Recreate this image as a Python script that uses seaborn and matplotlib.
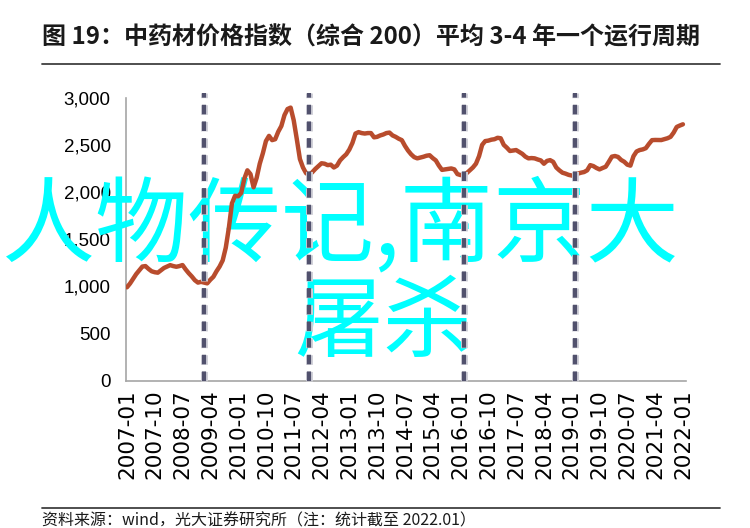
import numpy as np
import pandas as pd
import matplotlib
matplotlib.use("Agg")
import matplotlib.pyplot as plt
import seaborn as sns
from matplotlib.lines import Line2D
import matplotlib.patheffects as pe

sns.set_style("white")
plt.rcParams['font.family'] = ['Noto Sans CJK SC', 'DejaVu Sans']

# ---------------- data ----------------
start_month = "2007-01"
index_values = [
    990, 1030, 1080, 1130, 1170, 1210, 1215, 1185, 1160, 1150,
    1145, 1170, 1195, 1210, 1225, 1215, 1208, 1215, 1226, 1180,
    1140, 1105, 1065, 1040, 1048, 1040, 1032, 1070, 1102, 1160,
    1210, 1275, 1410, 1620, 1880, 1960, 1955, 1990, 2140, 2230,
    2190, 2050, 2150, 2300, 2410, 2540, 2595, 2550, 2560, 2640,
    2700, 2815, 2880, 2895, 2760, 2560, 2350, 2260, 2200, 2180,
    2210, 2245, 2275, 2305, 2300, 2285, 2290, 2260, 2280, 2335,
    2370, 2400, 2450, 2520, 2620, 2635, 2625, 2620, 2625, 2625,
    2580, 2585, 2600, 2610, 2625, 2630, 2600, 2585, 2565, 2550,
    2490, 2440, 2400, 2370, 2357, 2365, 2374, 2385, 2390, 2360,
    2335, 2280, 2235, 2240, 2245, 2250, 2240, 2190, 2180, 2180,
    2200, 2230, 2260, 2300, 2380, 2500, 2540, 2545, 2555, 2560,
    2575, 2570, 2500, 2470, 2435, 2440, 2445, 2425, 2405, 2375,
    2357, 2360, 2357, 2345, 2335, 2300, 2330, 2338, 2320, 2260,
    2230, 2205, 2195, 2182, 2175, 2170, 2195, 2205, 2212, 2230,
    2285, 2275, 2255, 2240, 2255, 2268, 2320, 2375, 2382, 2372,
    2340, 2321, 2290, 2280, 2380, 2430, 2445, 2452, 2465, 2510,
    2550, 2552, 2551, 2551, 2560, 2570, 2585, 2630, 2690, 2705,
    2718,
]
x_tick_labels = [
    "2007-01", "2007-10", "2008-07", "2009-04", "2010-01", "2010-10",
    "2011-07", "2012-04", "2013-01", "2013-10", "2014-07", "2015-04",
    "2016-01", "2016-10", "2017-07", "2018-04", "2019-01", "2019-10",
    "2020-07", "2021-04", "2022-01",
]
y_ticks = [0, 500, 1000, 1500, 2000, 2500, 3000]
cycle_marks = ["2009-02", "2011-12", "2016-02", "2019-02"]

title = "图 19：中药材价格指数（综合 200）平均 3-4 年一个运行周期"
source = "资料来源：wind，光大证券研究所（注：统计截至 2022.01）"
overlay_line1 = "人物传记,南京大"
overlay_line2 = "屠杀"


def month_pos(label):
    return (pd.Period(label, "M") - pd.Period(start_month, "M")).n


df = pd.DataFrame({"month": np.arange(len(index_values)), "value": index_values})

# ---------------- figure ----------------
W, H = 750, 528
fig = plt.figure(figsize=(W / 100, H / 100), dpi=100)
ax = fig.add_axes([126 / W, 1 - 380.7 / H, 560 / W, 283 / H])
ax.patch.set_alpha(0)

sns.lineplot(data=df, x="month", y="value", ax=ax, color="#b84c2d",
             linewidth=3.2, zorder=4)

for c in cycle_marks:
    ax.axvline(month_pos(c), ymin=0, ymax=1.016, clip_on=False, color="#51516d",
               lw=3, linestyle=(0, (2.3, 1.7)), zorder=5,
               path_effects=[pe.Stroke(linewidth=5, foreground="#d0d0d8"), pe.Normal()])

ax.set_xlim(-0.3, 181)
ax.set_ylim(0, 3000)
ax.set_yticks(y_ticks)
ax.set_yticklabels([f"{v:,}" for v in y_ticks], fontfamily="Liberation Sans", fontsize=13.5)
ax.set_xticks([month_pos(t) for t in x_tick_labels])
ax.set_xticklabels(x_tick_labels, rotation=90, fontfamily="DejaVu Sans", fontsize=15.5)
ax.set_xlabel("")
ax.set_ylabel("")

for s in ["top", "right"]:
    ax.spines[s].set_visible(False)
for s in ["left", "bottom"]:
    ax.spines[s].set_color("#a6a6a6")
    ax.spines[s].set_linewidth(1.2)
ax.tick_params(direction="in", length=4, color="#a6a6a6", width=1, labelcolor="black")
ax.tick_params(axis="y", pad=11)
ax.tick_params(axis="x", pad=6)

# overlay text (above tick labels, below data lines)
ax.text(2 / W, 1 - 227 / H, overlay_line1, transform=fig.transFigure, fontsize=67,
        color="#00ffff", ha="left", va="center", zorder=2.6, clip_on=False)
ax.text(383 / W, 1 - 325 / H, overlay_line2, transform=fig.transFigure, fontsize=64,
        color="#00ffff", ha="center", va="center", zorder=2.6, clip_on=False)

# title & source
fig.text(42 / W, 1 - 37 / H, title, fontsize=17.3, fontweight="bold", va="center",
         ha="left", color="#1a1a1a")
fig.add_artist(Line2D([42 / W, 720 / W], [1 - 64 / H] * 2, color="#404040", lw=1.3))
fig.add_artist(Line2D([42 / W, 720 / W], [1 - 508 / H] * 2, color="#404040", lw=1.3))
fig.text(42 / W, 1 - 521 / H, source, fontsize=11.5, va="center", ha="left", color="#1a1a1a")

fig.savefig("out.png", dpi=100)
